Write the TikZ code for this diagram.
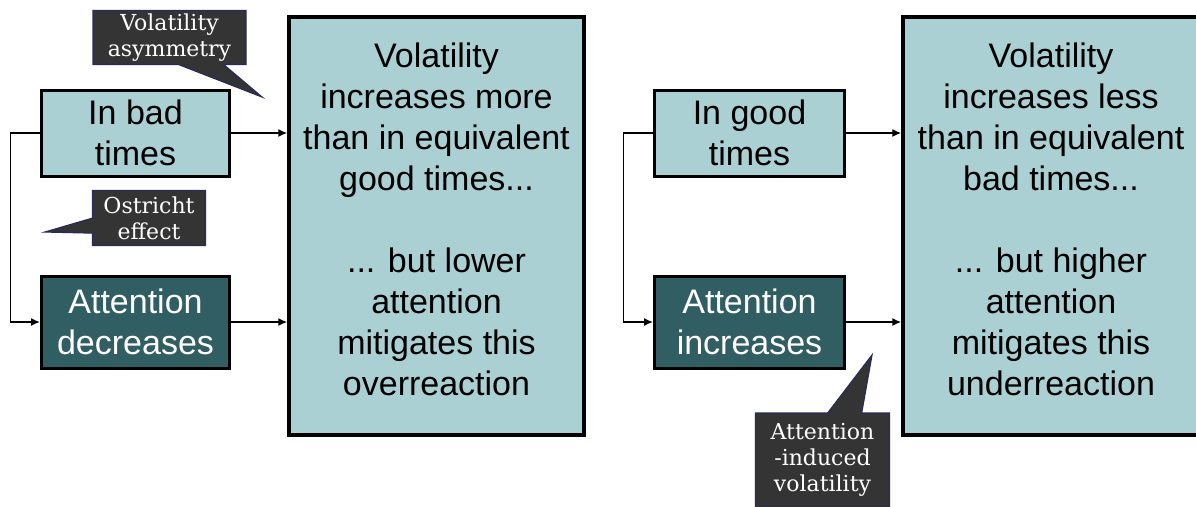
\documentclass[tikz,border=0pt]{standalone}
\usepackage{fontspec}
\setmainfont{Liberation Sans}
\newfontfamily\callfont{DejaVu Serif}
\usetikzlibrary{shapes.callouts,arrows.meta}
\definecolor{lightteal}{RGB}{170,208,212}
\definecolor{darkteal}{RGB}{49,94,98}
\definecolor{callgray}{RGB}{52,52,52}
\definecolor{callline}{RGB}{42,42,90}

\begin{document}
\begin{tikzpicture}[x=1pt, y=-1pt, >={Latex[length=9pt,width=8pt]}]
    % box styles
    \tikzstyle{lightbox}=[
      draw,
      rectangle,
      line width=3pt,
      fill=lightteal,
      inner sep=0pt,
      align=center,
      font=\fontsize{34}{41}\selectfont
    ]
    \tikzstyle{darkbox}=[lightbox, fill=darkteal, text=white]
    \tikzstyle{bigbox}=[lightbox, line width=3.5pt, text depth=14pt]

    % callout style
    \tikzstyle{note}=[
      rectangle callout,
      draw=callline,
      line width=1.2pt,
      fill=callgray,
      text=white,
      inner sep=0pt,
      align=center,
      font=\callfont\fontsize{22}{26}\selectfont
    ]
    \tikzstyle{conn}=[->, line width=1.5pt]

    \useasboundingbox (0,0) rectangle (1196,506);
    \clip (0,0) rectangle (1196,506);

    % Left half
    \node[lightbox, minimum width=188pt, minimum height=86pt] (bad) at (135.5,133) {In bad\\times};
    \node[darkbox, minimum width=188pt, minimum height=92pt] (attdec) at (135.5,322) {Attention\\decreases};
    \node[bigbox, minimum width=295pt, minimum height=418pt] (bigL) at (436.5,226)
      {Volatility\\increases more\\than in equivalent\\good times...\\[41pt]... but lower\\attention\\mitigates this\\overreaction};

    % Right half
    \node[lightbox, minimum width=190pt, minimum height=86pt] (good) at (749.5,133) {In good\\times};
    \node[darkbox, minimum width=190pt, minimum height=92pt] (attinc) at (749.5,322) {Attention\\increases};
    \node[bigbox, minimum width=296pt, minimum height=418pt] (bigR) at (1051,226)
      {Volatility\\increases less\\than in equivalent\\bad times...\\[41pt]... but higher\\attention\\mitigates this\\underreaction};

    % Arrows left half
    \draw[conn] (bad.west) -- ++(-29.5,0) |- (attdec.west);
    \draw[conn] (bad.east) -- (bad.east -| bigL.west);
    \draw[conn] (attdec.east) -- (attdec.east -| bigL.west);

    % Arrows right half
    \draw[conn] (good.west) -- ++(-29.5,0) |- (attinc.west);
    \draw[conn] (good.east) -- (good.east -| bigR.west);
    \draw[conn] (attinc.east) -- (attinc.east -| bigR.west);

    % Callouts
    \node[note, minimum width=153pt, minimum height=54pt, callout pointer width=45pt,
      callout absolute pointer={(262,97)}] (asym) at (169.5,37.5) {Volatility\\asymmetry};
    \node[note, minimum width=113pt, minimum height=55pt, callout pointer width=15pt,
      callout absolute pointer={(45,232)}] (ostrich) at (149,218) {Ostricht\\effect};
    \node[note, minimum width=134pt, minimum height=94pt, callout pointer width=34pt,
      callout absolute pointer={(872,355)}] (induced) at (822.5,460) {Attention\\-induced\\volatility};
  \end{tikzpicture}
\end{document}
